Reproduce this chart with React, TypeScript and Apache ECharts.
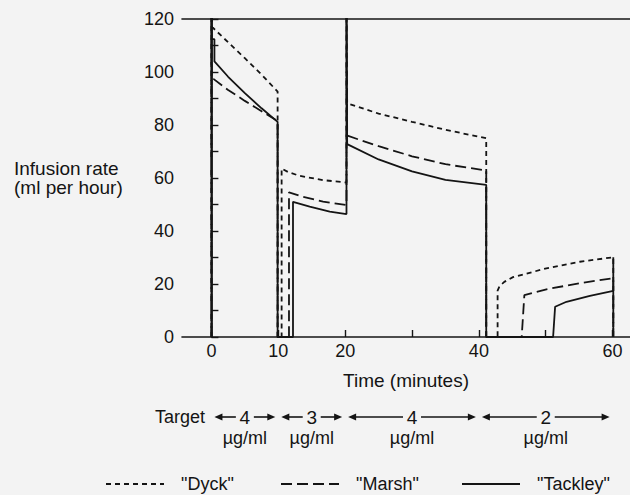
import { useEffect, useRef } from 'react';
import * as echarts from 'echarts';

// Infusion rate (ml per hour) against time (minutes), one array of [time, rate] per scheme
const dyckData = [
  [0, 0], [0, 130], [0.1, 130], [0.1, 117], [2.5, 111.2], [5, 105.2], [7.5, 99], [9.9, 92.6], [9.9, 0],
  [10.5, 0], [10.5, 63.6], [11.5, 62.2], [13.2, 60.8], [16.7, 59.2], [20.2, 58.3], [20.2, 130], [20.3, 130],
  [20.3, 88.2], [25, 84.3], [30, 81.2], [35, 78.2], [41.1, 75], [41.1, 0],
  [42.8, 0], [42.8, 17.5], [43.1, 19.2], [43.8, 20.8], [45.1, 22.6], [50.1, 25.9], [55.1, 28.4], [60.1, 30.1], [60.1, 0],
];
const marshData = [
  [0, 0], [0, 130], [0.05, 130], [0.05, 97.6], [0.3, 97.4], [2.5, 93.2], [5, 89.1], [7.5, 85.2], [9.9, 81.5], [9.9, 0],
  [11.6, 0], [11.6, 54.6], [13.7, 52.9], [16.7, 51.1], [20.2, 49.8], [20.2, 130], [20.3, 130],
  [20.3, 76], [25, 72], [30, 68.2], [35, 65.2], [41.1, 62.8], [41.1, 0],
  [46.4, 0], [46.8, 15.8], [50.1, 18], [55.1, 20.3], [60.1, 22.2], [60.1, 0],
];
const tackleyData = [
  [0, 0], [0, 130], [0.05, 130], [0.05, 112.4], [0.45, 112.4], [0.45, 104], [2.5, 98.2], [5, 92], [7.5, 86.3], [9.9, 81.2], [9.9, 0],
  [12.2, 0], [12.2, 51], [14.7, 49.2], [17.7, 47.3], [20.2, 46.4], [20.2, 130], [20.3, 130],
  [20.3, 72.8], [25, 67], [30, 62.5], [35, 59.3], [41.1, 57.4], [41.1, 0],
  [51.1, 0], [51.4, 11.4], [53.1, 13.3], [56.6, 15.5], [60.1, 17.4], [60.1, 30.1], [60.1, 0],
];

const seriesNames = ['Dyck', 'Marsh', 'Tackley'];

const xTickValues = [0, 10, 20, 30, 40, 50, 60];
const xLabelValues = [0, 10, 20, 40, 60];
const yTickValues = [0, 10, 20, 30, 40, 50, 60, 70, 80, 90, 100, 110, 120];
const yLabelValues = [0, 20, 40, 60, 80, 100, 120];

// Target concentration periods (µg/ml)
const targetStart = [0, 10, 20, 40];
const targetEnd = [10, 20, 40, 60];
const targetLabels = ['4', '3', '4', '2'];

const FONT = "'Liberation Sans', Arial, Helvetica, sans-serif";
const INK = '#141414';

export default function App() {
  const ref = useRef<HTMLDivElement>(null);

  useEffect(() => {
    const chart = echarts.init(ref.current!, null, { renderer: 'svg' });

    const lineSeries = (name: string, data: number[][], dash: number[] | 'solid') => ({
      name,
      type: 'line',
      xAxisIndex: 0,
      yAxisIndex: 0,
      data,
      showSymbol: false,
      symbol: 'none',
      clip: true,
      lineStyle: { color: INK, width: 1.8, type: dash },
      itemStyle: { color: INK },
    });

    const legendBase = {
      orient: 'horizontal',
      top: 470,
      itemWidth: 58,
      itemHeight: 14,
      formatter: (n: string) => `"${n}"`,
      itemStyle: { opacity: 0 },
      textStyle: { fontSize: 18, fontFamily: FONT, color: INK, padding: [0, 0, 0, 12] },
      selectedMode: false,
    };

    chart.setOption({
      animation: false,
      backgroundColor: '#f3f3f3',
      textStyle: { fontFamily: FONT, color: INK },
      grid: [
        { left: 182, right: 0, top: 19, bottom: 158 },
        { left: 182, right: 0, top: 407, height: 20 },
      ],
      xAxis: [
        {
          type: 'value', gridIndex: 0, min: -4.4, max: 62.6,
          name: 'Time (minutes)', nameLocation: 'middle', nameGap: 34,
          nameTextStyle: { fontSize: 19, color: INK, fontFamily: FONT },
          axisLine: { show: true, onZero: false, lineStyle: { color: INK, width: 1.6 } },
          axisTick: { show: true, inside: true, length: 7, customValues: xTickValues, lineStyle: { color: INK, width: 1.4 } },
          axisLabel: { customValues: xLabelValues, fontSize: 18, color: INK, fontFamily: FONT, margin: 5 },
          splitLine: { show: false },
        },
        {
          type: 'value', gridIndex: 0, position: 'top', min: -4.4, max: 62.6,
          axisLine: { show: true, onZero: false, lineStyle: { color: INK, width: 1.6 } },
          axisTick: { show: false }, axisLabel: { show: false }, splitLine: { show: false },
        },
        { type: 'value', gridIndex: 1, min: -4.4, max: 62.6, show: false },
      ],
      yAxis: [
        {
          type: 'value', gridIndex: 0, min: 0, max: 120,
          axisLine: { show: true, lineStyle: { color: INK, width: 1.6 } },
          axisTick: { show: true, inside: true, length: 7, customValues: yTickValues, lineStyle: { color: INK, width: 1.4 } },
          axisLabel: { customValues: yLabelValues, fontSize: 18, color: INK, fontFamily: FONT, margin: 8 },
          splitLine: { show: false },
        },
        { type: 'value', gridIndex: 1, min: 0, max: 1, show: false },
      ],
      legend: [
        { ...legendBase, left: 100, data: [seriesNames[0]] },
        { ...legendBase, left: 275, data: [seriesNames[1]] },
        { ...legendBase, left: 456, data: [seriesNames[2]] },
      ],
      graphic: [
        {
          type: 'text', left: 14, top: 159,
          style: {
            text: 'Infusion rate\n(ml per hour)', fontSize: 19, fontFamily: FONT, fill: INK,
            align: 'center', lineHeight: 19,
          },
        },
        {
          type: 'text', x: 205, y: 417,
          style: { text: 'Target', fontSize: 18, fontFamily: FONT, fill: INK, align: 'right', verticalAlign: 'middle' },
        },
      ],
      series: [
        lineSeries(seriesNames[0], dyckData, [5, 4]),
        lineSeries(seriesNames[1], marshData, [11, 5]),
        lineSeries(seriesNames[2], tackleyData, 'solid'),
        {
          type: 'custom',
          xAxisIndex: 2,
          yAxisIndex: 1,
          silent: true,
          data: targetStart.map((s, i) => [s, targetEnd[i]]),
          renderItem: (params: any, api: any) => {
            const i = params.dataIndex;
            const s = api.coord([targetStart[i], 0.5]);
            const e = api.coord([targetEnd[i], 0.5]);
            const y = s[1];
            const x0 = s[0] + 3;
            const x1 = e[0] - 3;
            const mid = (s[0] + e[0]) / 2;
            const gap = 9;
            const ah = 8;
            const aw = 3.5;
            const stroke = { stroke: INK, lineWidth: 1.6 };
            return {
              type: 'group',
              children: [
                { type: 'line', shape: { x1: x0 + ah - 1, y1: y, x2: mid - gap, y2: y }, style: stroke },
                { type: 'line', shape: { x1: mid + gap, y1: y, x2: x1 - ah + 1, y2: y }, style: stroke },
                { type: 'polygon', shape: { points: [[x0, y], [x0 + ah, y - aw], [x0 + ah, y + aw]] }, style: { fill: INK } },
                { type: 'polygon', shape: { points: [[x1, y], [x1 - ah, y - aw], [x1 - ah, y + aw]] }, style: { fill: INK } },
                {
                  type: 'text',
                  style: { text: targetLabels[i], x: mid, y, align: 'center', verticalAlign: 'middle', fontSize: 19, fontFamily: FONT, fill: INK },
                },
                {
                  type: 'text',
                  style: { text: 'µg/ml', x: mid, y: y + 21, align: 'center', verticalAlign: 'middle', fontSize: 18, fontFamily: FONT, fill: INK },
                },
              ],
            };
          },
        },
      ],
    });

    return () => chart.dispose();
  }, []);

  return <div ref={ref} style={{ position: 'fixed', left: 0, top: 0, width: 630, height: 495 }} />;
}
